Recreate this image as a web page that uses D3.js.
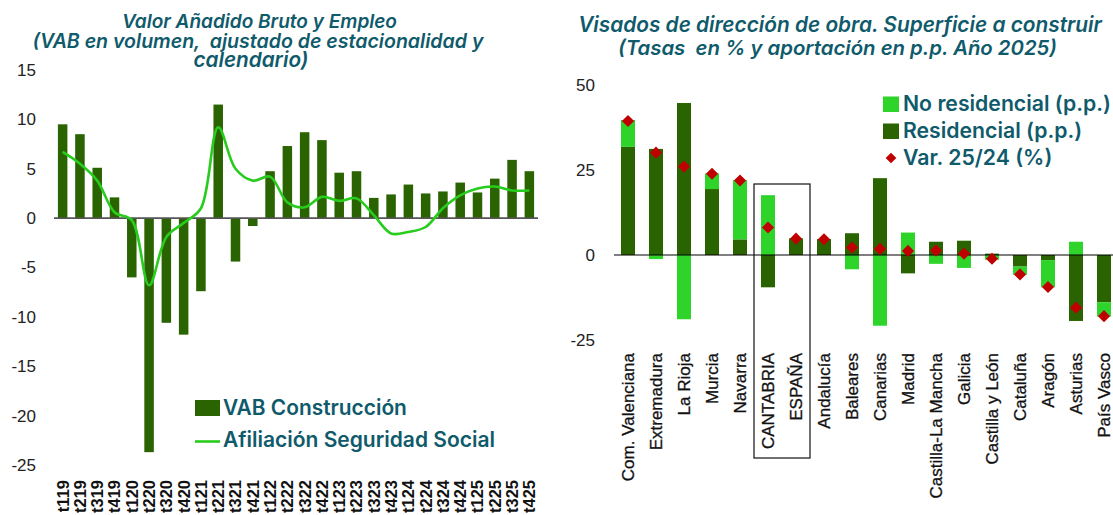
<!DOCTYPE html>
<html><head><meta charset="utf-8">
<script src="https://cdn.jsdelivr.net/npm/d3@7"></script>
<style>
html,body{margin:0;padding:0;background:#fff;}
svg{display:block;}
</style></head>
<body>
<svg id="chart" width="1113" height="515"></svg>
<script>
// ---------- DATA ----------
const quarters = ["t119","t219","t319","t419","t120","t220","t320","t420","t121","t221","t321","t421","t122","t222","t322","t422","t123","t223","t323","t423","t124","t224","t324","t424","t125","t225","t325","t425"];
const vabConstruccion = [9.5,8.5,5.1,2.1,-6.0,-23.7,-10.6,-11.8,-7.4,11.5,-4.4,-0.8,4.75,7.3,8.7,7.9,4.6,4.75,2.05,2.4,3.4,2.5,2.7,3.6,2.6,4.0,5.9,4.75];
const afiliacionSS = [6.7,5.5,3.8,0.6,-0.2,-6.8,-1.9,-0.5,1.0,9.2,5.0,3.8,4.2,1.6,1.1,2.15,1.75,2.0,0.3,-1.55,-1.4,-0.9,1.0,2.3,3.0,3.2,2.8,2.8];
const leftTicks = [15,10,5,0,-5,-10,-15,-20,-25];

const regiones = ["Com. Valenciana","Extremadura","La Rioja","Murcia","Navarra","CANTABRIA","ESPAÑA","Andalucía","Baleares","Canarias","Madrid","Castilla-La Mancha","Galicia","Castilla y León","Cataluña","Aragón","Asturias","País Vasco"];
const residencial   = [31.8,31.2,44.7,19.4,4.6,-9.5,4.9,4.7,6.4,22.6,-5.4,3.9,4.2,0.4,-3.4,-1.5,-19.4,-13.9];
const noResidencial = [7.9,-1.2,-18.9,4.6,17.4,17.6,0.1,0.0,-4.2,-20.8,6.6,-2.6,-3.8,-1.4,-2.4,-8.0,3.9,-4.2];
const variacion     = [39.4,30.1,26.0,23.9,21.9,8.1,4.8,4.6,2.2,1.8,1.2,1.3,0.4,-1.1,-5.7,-9.4,-15.5,-18.0];
const rightTicks = [50,25,0,-25];

// ---------- STYLE ----------
const C_DARK = "#2a6400", C_LIGHT = "#2ed42a", C_LINE = "#27cc1c", C_RED = "#c00000", C_TEAL = "#0f5a6b";
const svg = d3.select("#chart");

function fit(sel, width){
  let out = null;
  sel.each(function(){
    const t = d3.select(this);
    const fs = parseFloat(t.style("font-size"));
    const w = this.getComputedTextLength();
    if (w>0){ out = fs*width/w; t.style("font-size", out.toFixed(2)+"px"); }
  });
  return out;
}

// ---------- LEFT CHART ----------
const xL = d3.scaleBand().domain(quarters).range([54,538]).paddingInner(0.45).paddingOuter(0.225);
const yL = d3.scaleLinear().domain([-25,15]).range([465,70]);

const gL = svg.append("g");
gL.append("g").selectAll("text").data(leftTicks).join("text")
  .attr("x",36).attr("y",d=>yL(d)).attr("dy","0.35em").attr("text-anchor","end")
  .style("font-family","'Liberation Sans',Arial,sans-serif").style("font-size","17px").style("fill","#222")
  .text(d=>d);

gL.append("g").selectAll("rect").data(quarters).join("rect")
  .attr("x",d=>xL(d)).attr("width",xL.bandwidth())
  .attr("y",(d,i)=>yL(Math.max(0,vabConstruccion[i])))
  .attr("height",(d,i)=>Math.abs(yL(vabConstruccion[i])-yL(0)))
  .attr("fill",C_DARK);

gL.append("line").attr("x1",54).attr("x2",538).attr("y1",yL(0)).attr("y2",yL(0))
  .attr("stroke","#555").attr("stroke-width",1.8);

const lineL = d3.line().x((d,i)=>xL(quarters[i])+xL.bandwidth()/2).y(d=>yL(d)).curve(d3.curveCatmullRom.alpha(0.5));
gL.append("path").datum(afiliacionSS).attr("d",lineL).attr("fill","none").attr("stroke",C_LINE).attr("stroke-width",2.6);

gL.append("g").selectAll("text").data(quarters).join("text")
  .attr("transform",d=>`translate(${xL(d)+xL.bandwidth()/2},480) rotate(-90)`)
  .attr("dy","0.36em").attr("text-anchor","end")
  .style("font-family","'Liberation Sans',Arial,sans-serif").style("font-weight","bold").style("font-size","16.5px").style("fill","#111")
  .text(d=>d);

const tL = [["Valor Añadido Bruto y Empleo",28,259.5,275],["(VAB en volumen,  ajustado de estacionalidad y",48,258,451],["calendario)",67,251,115]];
tL.forEach(([s,y,cx,w])=>{
  const t = gL.append("text").attr("x",cx).attr("y",y).attr("text-anchor","middle")
    .style("font-family","Inter,'Open Sans',sans-serif").style("font-style","italic").style("font-weight","600")
    .style("font-size","19px").style("fill",C_TEAL).style("white-space","pre").attr("xml:space","preserve").text(s);
  fit(t,w);
});

gL.append("rect").attr("x",195).attr("y",400).attr("width",25).attr("height",16).attr("fill",C_DARK);
const lt1 = gL.append("text").attr("x",223).attr("y",415).style("font-family","Inter,sans-serif").style("font-weight","600")
  .style("font-size","19px").style("fill",C_TEAL).text("VAB Construcción");
fit(lt1,184);
gL.append("line").attr("x1",195).attr("x2",220).attr("y1",441.5).attr("y2",441.5).attr("stroke",C_LINE).attr("stroke-width",2.6);
const lt2 = gL.append("text").attr("x",223).attr("y",447).style("font-family","Inter,sans-serif").style("font-weight","600")
  .style("font-size","19px").style("fill",C_TEAL).text("Afiliación Seguridad Social");
fit(lt2,272);

// ---------- RIGHT CHART ----------
const xR = d3.scaleBand().domain(regiones).range([614,1118]).paddingInner(0.5).paddingOuter(0.25);
const yR = d3.scaleLinear().domain([-25,50]).range([340,85]);
const gR = svg.append("g");

gR.append("g").selectAll("text").data(rightTicks).join("text")
  .attr("x",595).attr("y",d=>yR(d)).attr("dy","0.35em").attr("text-anchor","end")
  .style("font-family","'Liberation Sans',Arial,sans-serif").style("font-size","17px").style("fill","#222")
  .text(d=>d);

const table = regiones.map((r,i)=>({region:r, Residencial:residencial[i], NoResidencial:noResidencial[i]}));
const stack = d3.stack().keys(["Residencial","NoResidencial"]).offset(d3.stackOffsetDiverging)(table);
const colors = {Residencial:C_DARK, NoResidencial:C_LIGHT};
gR.append("g").selectAll("g").data(stack).join("g").attr("fill",d=>colors[d.key])
  .selectAll("rect").data(d=>d).join("rect")
  .attr("x",d=>xR(d.data.region)).attr("width",xR.bandwidth())
  .attr("y",d=>yR(Math.max(d[0],d[1]))).attr("height",d=>Math.abs(yR(d[0])-yR(d[1])));

gR.append("line").attr("x1",614).attr("x2",1113).attr("y1",yR(0)).attr("y2",yR(0)).attr("stroke","#000").attr("stroke-width",1.2);

gR.append("g").selectAll("rect").data(regiones).join("rect")
  .attr("x",-4.3).attr("y",-4.3).attr("width",8.6).attr("height",8.6)
  .attr("transform",(d,i)=>`translate(${xR(d)+xR.bandwidth()/2},${yR(variacion[i])}) rotate(45)`)
  .attr("fill",C_RED);

const bx0 = xR("CANTABRIA") - xR.step()*xR.paddingOuter();
const bx1 = xR("ESPAÑA") + xR.bandwidth() + xR.step()*xR.paddingOuter();
gR.append("rect").attr("x",bx0).attr("y",184).attr("width",bx1-bx0).attr("height",458-184)
  .attr("fill","none").attr("stroke","#111").attr("stroke-width",1.2);

gR.append("g").selectAll("text").data(regiones).join("text")
  .attr("transform",d=>`translate(${xR(d)+xR.bandwidth()/2},353) rotate(-90)`)
  .attr("dy","0.36em").attr("text-anchor","end")
  .style("font-family","'Liberation Sans',Arial,sans-serif").style("font-size","17px").style("fill","#111")
  .style("stroke","#111").style("stroke-width","0.3px")
  .text(d=>d);

const tR = [["Visados de dirección de obra. Superficie a construir",32,840,524],["(Tasas  en % y aportación en p.p. Año 2025)",55,837.5,439]];
tR.forEach(([s,y,cx,w])=>{
  const t = gR.append("text").attr("x",cx).attr("y",y).attr("text-anchor","middle")
    .style("font-family","Inter,'Open Sans',sans-serif").style("font-style","italic").style("font-weight","600")
    .style("font-size","21px").style("fill",C_TEAL).style("white-space","pre").attr("xml:space","preserve").text(s);
  fit(t,w);
});

const legR = [["No residencial (p.p.)",111,"sq",C_LIGHT],["Residencial (p.p.)",138,"sq",C_DARK],["Var. 25/24 (%)",165,"dm",C_RED]];
let legFs = null;
legR.forEach(([s,y,type,col],i)=>{
  if(type==="sq") gR.append("rect").attr("x",883).attr("y",y-14.5).attr("width",16).attr("height",15.5).attr("fill",col);
  else gR.append("rect").attr("x",-3.8).attr("y",-3.8).attr("width",7.6).attr("height",7.6)
        .attr("transform",`translate(891,${y-7}) rotate(45)`).attr("fill",col);
  const t = gR.append("text").attr("x",903).attr("y",y).style("font-family","Inter,sans-serif").style("font-weight","600")
    .style("font-size",(legFs||19)+"px").style("fill",C_TEAL).text(s);
  if(i===0) legFs = fit(t,208);
});
</script>
</body></html>
